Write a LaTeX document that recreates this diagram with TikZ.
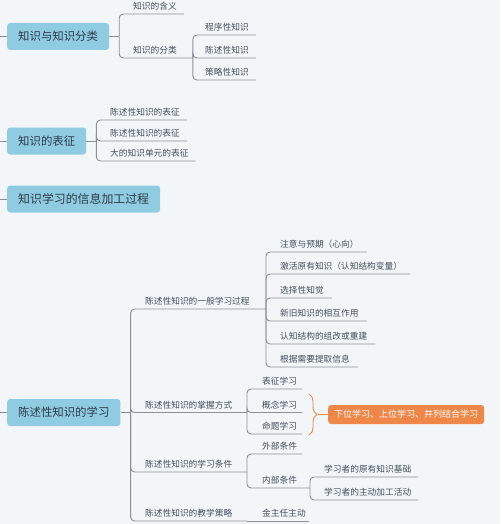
\documentclass[tikz,border=0pt]{standalone}
\usepackage{fontspec}
\newfontfamily\cjk{Noto Sans CJK SC}
\usetikzlibrary{positioning}
\usetikzlibrary{decorations.pathreplacing}

\definecolor{bgc}{HTML}{F3F6F9}
\definecolor{lnc}{HTML}{8A9098}
\definecolor{boxc}{HTML}{8FCBE1}
\definecolor{txtc}{HTML}{2E3B48}
\definecolor{orc}{HTML}{EF8748}

\tikzset{
	mainbox/.style={anchor=west, fill=boxc, rounded corners=3pt, text=txtc,
		font=\cjk\fontsize{11.4}{13}\selectfont, inner xsep=11pt, minimum height=27pt},
	topic/.style={anchor=south west, inner xsep=0pt, inner ysep=3pt, text height=7.4pt,
		text depth=1pt, text=txtc!90, font=\cjk\fontsize{8.7}{10}\selectfont},
	conn/.style={draw=lnc, line width=0.9pt, rounded corners=4pt},
	brc/.style={draw=orc, line width=0.9pt},
	sumbox/.style={anchor=west, fill=orc, rounded corners=3pt, text=white,
		font=\cjk\fontsize{9}{11}\selectfont, inner xsep=6pt, minimum height=19pt},
}

\begin{document}
\begin{tikzpicture}[x=1pt, y=-1pt]
	\fill[bgc] (0,0) rectangle (500,524);
	\useasboundingbox (0,0) rectangle (500,524);
	\coordinate (o) at (0,0);

	% main topics
	\node[mainbox] (kc) at (7,36.5) {知识与知识分类};
	\node[mainbox] (kr) at (7,141) {知识的表征};
	\node[mainbox, font=\cjk\fontsize{11.9}{14}\selectfont] (kp) at (7,199) {知识学习的信息加工过程};
	\node[mainbox] (dl) at (7,412.5) {陈述性知识的学习};
	\foreach \m in {kc,kr,kp,dl}
		\draw[conn] (\m.west) -- (o |- \m.west);

	% knowledge and classes
	\coordinate (Jkc) at ([xshift=10pt]kc.east);
	\draw[conn] (kc.east) -- (Jkc);
	\node[topic] (k1) at (133,14) {知识的含义};
	\node[topic] (k2) at (133,58) {知识的分类};
	\coordinate (Jk2) at ([xshift=16pt]k2.south east);
	\node[topic] (k21) at (205,35) {程序性知识};
	\node[topic] (k22) at (205,58) {陈述性知识};
	\node[topic] (k23) at (205,80) {策略性知识};
	\draw[conn] (Jkc) |- ([xshift=7pt]k1.south east);
	\draw[conn] (Jkc) |- (Jk2);
	\foreach \c in {k21,k22,k23}
		\draw[conn] (Jk2) |- ([xshift=7pt]\c.south east);

	% representation
	\coordinate (Jkr) at ([xshift=10pt]kr.east);
	\draw[conn] (kr.east) -- (Jkr);
	\node[topic] (e1) at (110,120) {陈述性知识的表征};
	\node[topic] (e2) at (110,141) {陈述性知识的表征};
	\node[topic] (e3) at (110,161) {大的知识单元的表征};
	\foreach \c in {e1,e2,e3}
		\draw[conn] (Jkr) |- ([xshift=7pt]\c.south east);

	% declarative learning
	\coordinate (Jdl) at ([xshift=10pt]dl.east);
	\draw[conn] (dl.east) -- (Jdl);
	\node[topic] (A) at (145,309) {陈述性知识的一般学习过程};
	\node[topic] (B) at (145,412.5) {陈述性知识的掌握方式};
	\node[topic] (C) at (145,472) {陈述性知识的学习条件};
	\node[topic] (D) at (145,521) {陈述性知识的教学策略};
	\coordinate (JA) at (266,309);
	\coordinate (JB) at (247,412.5);
	\coordinate (JC) at (247,472);
	\coordinate (JD) at (247,521);
	\foreach \c in {JA,JB,JC,JD}
		\draw[conn] (Jdl) |- (\c);

	\node[topic] (a1) at (280,252) {注意与预期（心向）};
	\node[topic] (a2) at (280,274) {激活原有知识（认知结构变量）};
	\node[topic] (a3) at (280,298) {选择性知觉};
	\node[topic] (a4) at (280,321) {新旧知识的相互作用};
	\node[topic] (a5) at (280,344) {认知结构的组改或重建};
	\node[topic] (a6) at (280,367) {根据需要提取信息};
	\foreach \c in {a1,a2,a3,a4,a5,a6}
		\draw[conn] (JA) |- ([xshift=8pt]\c.south east);

	\node[topic] (b1) at (262,389) {表征学习};
	\node[topic] (b2) at (262,412.5) {概念学习};
	\node[topic] (b3) at (262,434) {命题学习};
	\foreach \c in {b1,b2,b3}
		\draw[conn] (JB) |- ([xshift=5pt]\c.south east);

	\node[topic] (c1) at (262,454) {外部条件};
	\node[topic] (c2) at (262,488) {内部条件};
	\coordinate (Jc2) at (310,488);
	\draw[conn] (JC) |- ([xshift=5pt]c1.south east);
	\draw[conn] (JC) |- (Jc2);
	\node[topic] (c21) at (324,477) {学习者的原有知识基础};
	\node[topic] (c22) at (324,500) {学习者的主动加工活动};
	\foreach \c in {c21,c22}
		\draw[conn] (Jc2) |- ([xshift=7pt]\c.south east);

	\node[topic] (d1) at (262,521) {金主任主动};
	\draw[conn] (JD) -- ([xshift=3pt]d1.south east);

	% summary
	\coordinate (br1) at (309,394);
	\coordinate (br2) at (309,435);
	\coordinate (bt) at (318,414.5);
	\draw[brc, decorate, decoration={brace, amplitude=8pt}] (br1) -- (br2);
	\node[sumbox] (sm) at (328,414.5) {下位学习、上位学习、并列结合学习};
	\draw[brc] (bt) -- (sm.west);
\end{tikzpicture}
\end{document}
